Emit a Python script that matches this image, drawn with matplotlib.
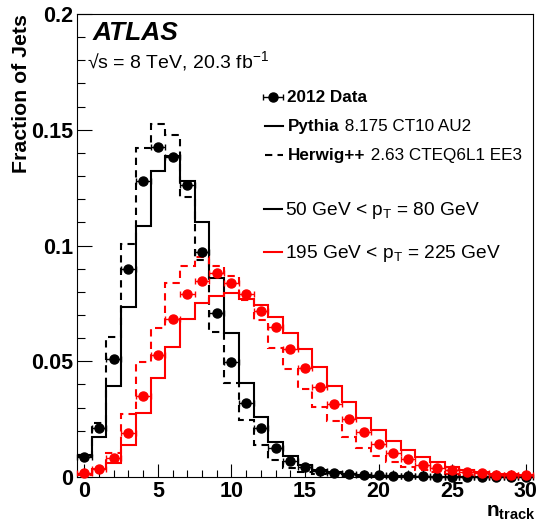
import numpy as np
import matplotlib
matplotlib.use("Agg")
import matplotlib.pyplot as plt
from matplotlib.ticker import MultipleLocator

plt.rcParams['font.family'] = ['Liberation Sans', 'DejaVu Sans']
plt.rcParams['mathtext.fontset'] = 'custom'
plt.rcParams['mathtext.rm'] = 'Liberation Sans'
plt.rcParams['mathtext.bf'] = 'Liberation Sans:bold'
plt.rcParams['mathtext.it'] = 'Liberation Sans:italic'

# n_track bins 0..30
n_track = np.arange(0, 31)

# 50 GeV < pT < 80 GeV
data_low = [0.0085, 0.021, 0.051, 0.090, 0.128, 0.1427, 0.1384, 0.126, 0.097, 0.071,
            0.0497, 0.032, 0.021, 0.0126, 0.007, 0.0044, 0.0027, 0.0018, 0.0013, 0.0009,
            0.0007, 0.0005, 0.0004, 0.0003, 0.0002, 0.0002, 0.0001, 0.0001, 0.0001, 0.0001, 0.0001]
pythia_low = [0.0095, 0.0171, 0.0395, 0.0736, 0.1084, 0.1322, 0.1387, 0.1279, 0.1103, 0.0861,
              0.0621, 0.0408, 0.0258, 0.0153, 0.0091, 0.0052, 0.0032, 0.002, 0.0013, 0.0009,
              0.0006, 0.0004, 0.0003, 0.0002, 0.0001, 0.0001, 0.0001, 0.0001, 0.0001, 0.0001, 0.0001]
herwig_low = [0.0090, 0.0235, 0.0606, 0.1007, 0.1423, 0.1525, 0.1477, 0.1208, 0.0937, 0.0628,
              0.0405, 0.0246, 0.0137, 0.0075, 0.0037, 0.002, 0.0012, 0.0007, 0.0004, 0.0003,
              0.0002, 0.0001, 0.0001, 0.0001, 0.0, 0.0, 0.0, 0.0, 0.0, 0.0, 0.0]

# 195 GeV < pT < 225 GeV
data_high = [0.0016, 0.0033, 0.0083, 0.019, 0.0351, 0.0527, 0.0683, 0.0792, 0.0845, 0.0882,
             0.0838, 0.0792, 0.0719, 0.0648, 0.0555, 0.047, 0.0388, 0.0315, 0.0249, 0.0196,
             0.0141, 0.0105, 0.0079, 0.0052, 0.004, 0.003, 0.002, 0.0016, 0.0009, 0.0008, 0.0007]
pythia_high = [0.0015, 0.0033, 0.0062, 0.014, 0.0275, 0.0426, 0.056, 0.0681, 0.075, 0.078,
               0.0795, 0.0767, 0.0743, 0.0693, 0.0624, 0.0552, 0.0474, 0.0393, 0.0325, 0.0257,
               0.0203, 0.0157, 0.0117, 0.0085, 0.0063, 0.0042, 0.003, 0.0022, 0.0015, 0.0011, 0.0008]
herwig_high = [0.001, 0.004, 0.0105, 0.027, 0.0495, 0.0645, 0.0837, 0.0913, 0.0952, 0.0912,
               0.0869, 0.0763, 0.0679, 0.0559, 0.0467, 0.0379, 0.0301, 0.0241, 0.0172, 0.0124,
               0.0091, 0.0066, 0.0045, 0.003, 0.002, 0.0014, 0.001, 0.0007, 0.0005, 0.0003, 0.0002]

edges = np.arange(-0.5, 31.0, 1.0)
red = '#ff0000'
dash = (0, (3.5, 2.5))

fig = plt.figure(figsize=(5.37, 5.24), dpi=100)
ax = fig.add_axes([77/537, 1-477/524, 456/537, 463/524])

ax.stairs(pythia_low, edges, baseline=None, color='black', lw=1.5)
ax.stairs(herwig_low, edges, baseline=None, color='black', lw=1.5, ls=dash)
ax.stairs(pythia_high, edges, baseline=None, color=red, lw=1.5)
ax.stairs(herwig_high, edges, baseline=None, color=red, lw=1.5, ls=dash)

ebkw = dict(fmt='o', ms=6.5, xerr=0.5, capsize=2.5, elinewidth=1, capthick=1, clip_on=False, zorder=5)
ax.errorbar(n_track, data_low, color='black', **ebkw)
ax.errorbar(n_track, data_high, color=red, **ebkw)

ax.set_xlim(-0.5, 30.5)
ax.set_ylim(0, 0.2)
ax.xaxis.set_major_locator(MultipleLocator(5))
ax.xaxis.set_minor_locator(MultipleLocator(1))
ax.yaxis.set_major_locator(MultipleLocator(0.05))
ax.yaxis.set_minor_locator(MultipleLocator(0.01))
ax.set_yticks([0, 0.05, 0.1, 0.15, 0.2], ['0', '0.05', '0.1', '0.15', '0.2'])
ax.tick_params(which='both', direction='in', top=False, right=False, width=0.8)
ax.tick_params(axis='x', which='major', length=9.5, pad=3)
ax.tick_params(axis='x', which='minor', length=5)
ax.tick_params(axis='y', which='major', length=11, pad=3)
ax.tick_params(axis='y', which='minor', length=6)
for lab in ax.get_xticklabels() + ax.get_yticklabels():
    lab.set_fontweight('bold')
    lab.set_fontsize(15.5)
for s in ax.spines.values():
    s.set_linewidth(0.8)

fig.text(22/537, 1-14/524, 'Fraction of Jets', rotation=90, ha='center', va='top',
         fontsize=15.3, fontweight='bold')
fig.text(536/537, 1-517/524, r'$\mathbf{n}_{\mathbf{track}}$', ha='right', va='baseline',
         fontsize=15)

def fx(px):
    return (px - 77) / 456

def fy(py):
    return (477 - py) / 463

ax.text(fx(93), fy(40), 'ATLAS', transform=ax.transAxes, fontsize=19,
        fontweight='bold', style='italic', va='baseline')
ax.text(fx(87), fy(68), '√s = 8 TeV, 20.3 fb$^{-1}$', transform=ax.transAxes,
        fontsize=14, va='baseline')

# legend
ax.errorbar([fx(273)], [fy(97)], xerr=[10/456], fmt='o', ms=6.5, color='black',
            capsize=2.5, elinewidth=1, capthick=1, transform=ax.transAxes, clip_on=False)
ax.text(fx(287), fy(97), '2012 Data', transform=ax.transAxes, fontsize=12.3,
        fontweight='bold', va='center')

ax.plot([fx(265), fx(283)], [fy(126), fy(126)], color='black', lw=1.5, transform=ax.transAxes)
t1 = ax.text(fx(288), fy(126), 'Pythia', transform=ax.transAxes, fontsize=12.3,
             fontweight='bold', va='center')
ax.annotate(' 8.175 CT10 AU2', xy=(1, 0), xycoords=t1, fontsize=12.3, va='bottom')

ax.plot([fx(265), fx(283)], [fy(155), fy(155)], color='black', lw=1.5, ls=dash,
        transform=ax.transAxes)
t2 = ax.text(fx(288), fy(155), 'Herwig++', transform=ax.transAxes, fontsize=12.3,
             fontweight='bold', va='center')
ax.annotate(' 2.63 CTEQ6L1 EE3', xy=(1, 0), xycoords=t2, fontsize=12.3, va='bottom')

ax.plot([fx(264), fx(282)], [fy(209), fy(209)], color='black', lw=1.5, transform=ax.transAxes)
ax.text(fx(285), fy(210), r'50 GeV < p$_{\rm T}$ = 80 GeV', transform=ax.transAxes,
        fontsize=13.8, va='center')
ax.plot([fx(264), fx(282)], [fy(252), fy(252)], color=red, lw=1.5, transform=ax.transAxes)
ax.text(fx(285), fy(253), r'195 GeV < p$_{\rm T}$ = 225 GeV', transform=ax.transAxes,
        fontsize=13.8, va='center')

fig.savefig('out.png', dpi=100)
